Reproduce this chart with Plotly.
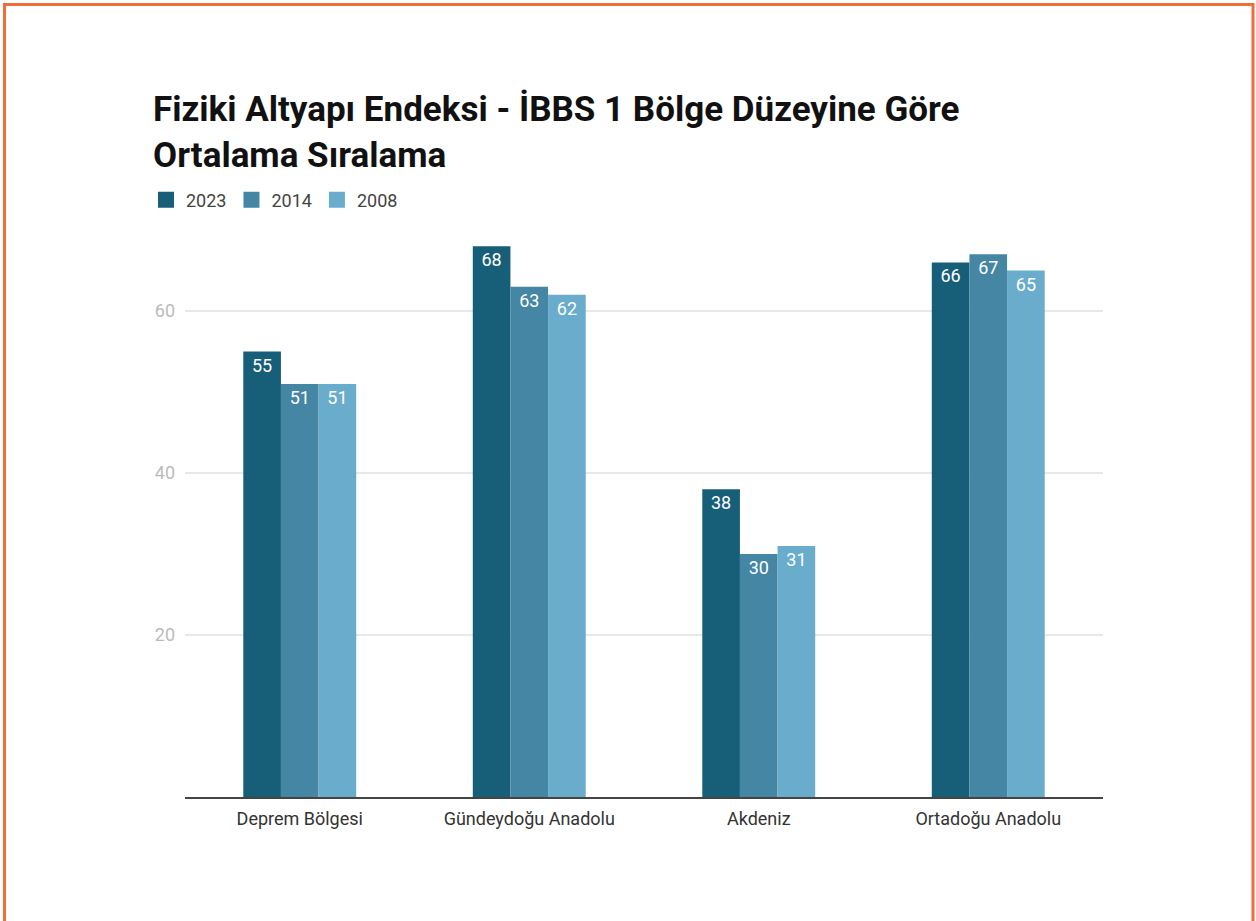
import plotly.graph_objects as go

categories = ["Deprem Bölgesi", "Gündeydoğu Anadolu", "Akdeniz", "Ortadoğu Anadolu"]
series_names = ["2023", "2014", "2008"]
values_2023 = [55, 68, 38, 66]
values_2014 = [51, 63, 30, 67]
values_2008 = [51, 62, 31, 65]
colors = ["#175e78", "#4486a3", "#6aaccb"]
y_ticks = [20, 40, 60]

W, H = 1256, 921
L, R, T, B = 185, 153, 230, 124
pw, ph = W - L - R, H - T - B

def px_x(x):
    return (x - L) / pw

def px_y(y):
    return (H - B - y) / ph

fig = go.Figure()
for name, vals, col in zip(series_names, [values_2023, values_2014, values_2008], colors):
    fig.add_trace(go.Bar(
        name=name, x=categories, y=vals, marker=dict(color=col, line=dict(width=0)),
        text=[str(v) for v in vals], textposition="inside", insidetextanchor="end",
        textfont=dict(color="white", size=18, family="Roboto"), textangle=0,
        constraintext="none", showlegend=False, legendgroup=name,
    ))
# legend entries with larger square swatches
for name, col in zip(series_names, colors):
    fig.add_trace(go.Scatter(
        name=name, x=[None], y=[None], mode="markers", legendgroup=name,
        marker=dict(symbol="square", size=16, color=col, line=dict(width=0)),
        hoverinfo="skip",
    ))

fig.update_layout(
    width=W, height=H,
    margin=dict(l=L, r=R, t=T, b=B, autoexpand=False),
    paper_bgcolor="white", plot_bgcolor="white",
    barmode="group", bargap=0.508, bargroupgap=0,
    font=dict(family="Roboto", color="#333"),
    title=dict(
        text="<b>Fiziki Altyapı Endeksi - İBBS 1 Bölge Düzeyine Göre<br>Ortalama Sıralama</b>",
        xref="container", yref="container", x=153 / W, xanchor="left",
        y=1 - 121 / H, yanchor="top",
        font=dict(family="Roboto", size=35, color="#111"),
    ),
    legend=dict(
        orientation="h", xref="container", yref="container",
        x=146 / W, xanchor="left", y=1 - 200 / H, yanchor="middle",
        font=dict(size=18, color="#444", family="Roboto"),
        itemwidth=30, tracegroupgap=0, itemsizing="trace",
    ),
    xaxis=dict(
        showgrid=False, showline=True, linecolor="#444", linewidth=2,
        ticks="", tickfont=dict(size=18, color="#333", family="Roboto"),
        ticklabelstandoff=4,
    ),
    yaxis=dict(
        range=[0, 70], tickvals=y_ticks, showgrid=True, gridcolor="#e8e8e8",
        gridwidth=1.5, zeroline=False, showline=False, ticks="",
        tickfont=dict(size=18, color="#bbb", family="Roboto"),
        ticklabelstandoff=9,
    ),
    shapes=[dict(
        type="rect", xref="paper", yref="paper",
        x0=px_x(4.5), x1=px_x(1253), y0=px_y(935), y1=px_y(4.5),
        line=dict(color="#f26b38", width=3), fillcolor="rgba(0,0,0,0)", layer="above",
    )],
)

fig.write_html("out.html", config={"displayModeBar": False},
               post_script="document.body.style.margin='0';")
